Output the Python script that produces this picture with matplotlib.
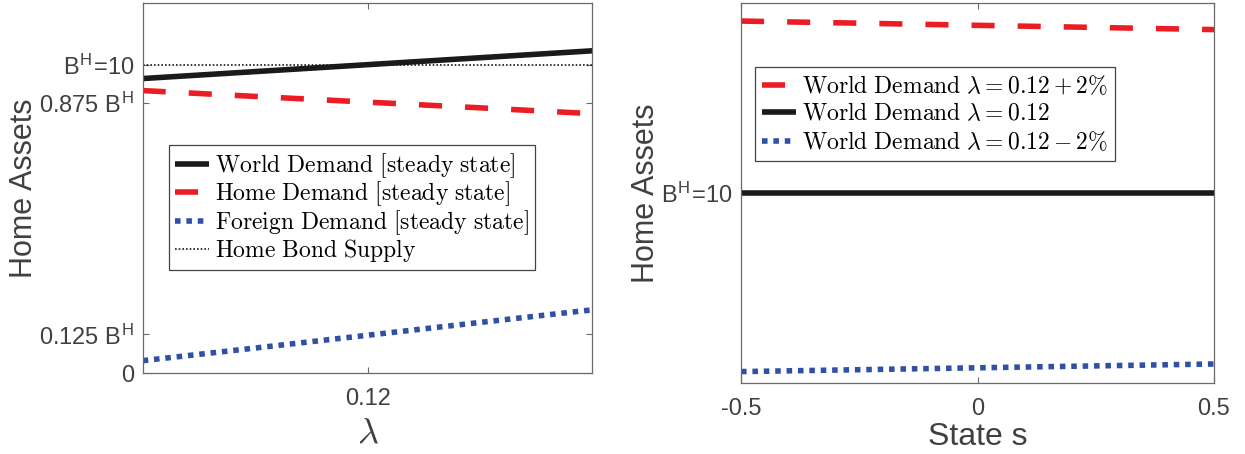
import matplotlib
matplotlib.use("Agg")
import matplotlib.pyplot as plt

# ---- data ----
lam = [0.10, 0.11, 0.12, 0.13, 0.14]
world_ss = [9.55, 9.775, 10.00, 10.225, 10.45]
home_ss = [9.16, 8.97, 8.785, 8.60, 8.41]
foreign_ss = [0.40, 0.81, 1.225, 1.64, 2.05]
bond_supply = [10, 10, 10, 10, 10]

state = [-0.5, 0.0, 0.5]
world_plus = [11.81, 11.765, 11.72]
world_base = [10.0, 10.0, 10.0]
world_minus = [8.12, 8.16, 8.20]

left_yticks = [0, 1.25, 8.75, 10]
left_yticklabels = ['0', r'0.125 B$^{\mathregular{H}}$', r'0.875 B$^{\mathregular{H}}$', r'B$^{\mathregular{H}}$=10']
left_xticks = [0.12]
left_xticklabels = ['0.12']
right_yticks = [10]
right_yticklabels = [r'B$^{\mathregular{H}}$=10']
right_xticks = [-0.5, 0, 0.5]
right_xticklabels = ['-0.5', '0', '0.5']

# ---- style ----
plt.rcParams['font.family'] = ['Liberation Sans', 'DejaVu Sans']
plt.rcParams['mathtext.fontset'] = 'cm'

RED = '#EC1C24'
BLUE = '#3050A5'
BLACK = '#1A1A1A'
TXT = '#404040'
SPINE = '#6a6a6a'
LW = 4.0

fig = plt.figure(figsize=(12.45, 4.54), dpi=100)
axL = fig.add_axes([0.1146, 0.1784, 0.3613, 0.815])
axR = fig.add_axes([0.5952, 0.1564, 0.3799, 0.837])

def style(ax):
    for s in ax.spines.values():
        s.set_color(SPINE)
        s.set_linewidth(0.9)
    ax.tick_params(direction='in', length=4.5, width=0.8, color=SPINE,
                   top=True, right=True, labelsize=17, labelcolor=TXT, pad=6)
    ax.tick_params(axis='x', pad=11)

# left panel
axL.plot(lam, world_ss, color=BLACK, lw=LW, solid_capstyle='butt',
         label=r'$\mathrm{World\ Demand\ [steady\ state]}$')
axL.plot(lam, home_ss, color=RED, lw=LW, dashes=(4.15, 4.15), dash_capstyle='butt',
         label=r'$\mathrm{Home\ Demand\ [steady\ state]}$')
axL.plot(lam, foreign_ss, color=BLUE, lw=LW, dashes=(1.0, 1.05), dash_capstyle='butt',
         label=r'$\mathrm{Foreign\ Demand\ [steady\ state]}$')
axL.plot(lam, bond_supply, color=BLACK, lw=1.2, dashes=(1, 1.2),
         label=r'$\mathrm{Home\ Bond\ Supply}$')
axL.set_xlim(0.10, 0.14)
axL.set_ylim(0, 12)
axL.set_xticks(left_xticks)
axL.set_xticklabels(left_xticklabels)
axL.set_yticks(left_yticks)
axL.set_yticklabels(left_yticklabels)
style(axL)
axL.set_xlabel(r'$\lambda$', fontsize=26, color=TXT, labelpad=4)
axL.set_ylabel('Home Assets', fontsize=22, color=TXT, labelpad=0)
legL = axL.legend(loc='upper left', bbox_to_anchor=(0.058, 0.616), borderaxespad=0,
                  fontsize=17, frameon=True, fancybox=False, framealpha=1,
                  edgecolor='#444444', handlelength=1.45, handletextpad=0.25,
                  labelspacing=0.0, borderpad=0.25)
legL.get_frame().set_linewidth(0.9)

# right panel
axR.plot(state, world_plus, color=RED, lw=LW, dashes=(4.15, 4.15), dash_capstyle='butt',
         label=r'$\mathrm{World\ Demand}\ \lambda = 0.12 + 2\%$')
axR.plot(state, world_base, color=BLACK, lw=LW, solid_capstyle='butt',
         label=r'$\mathrm{World\ Demand}\ \lambda = 0.12$')
axR.plot(state, world_minus, color=BLUE, lw=LW, dashes=(1.0, 1.05), dash_capstyle='butt',
         label=r'$\mathrm{World\ Demand}\ \lambda = 0.12 - 2\%$')
axR.set_xlim(-0.5, 0.5)
axR.set_ylim(8, 12)
axR.set_xticks(right_xticks)
axR.set_xticklabels(right_xticklabels)
axR.set_yticks(right_yticks)
axR.set_yticklabels(right_yticklabels)
style(axR)
axR.set_xlabel('State s', fontsize=23, color=TXT, labelpad=1)
axR.set_ylabel('Home Assets', fontsize=22, color=TXT, labelpad=0.5)
legR = axR.legend(loc='upper left', bbox_to_anchor=(0.0296, 0.8316), borderaxespad=0,
                  fontsize=17, frameon=True, fancybox=False, framealpha=1,
                  edgecolor='#444444', handlelength=1.45, handletextpad=0.25,
                  labelspacing=0.2, borderpad=0.3)
legR.get_frame().set_linewidth(0.9)

fig.savefig('out.png', dpi=100)
